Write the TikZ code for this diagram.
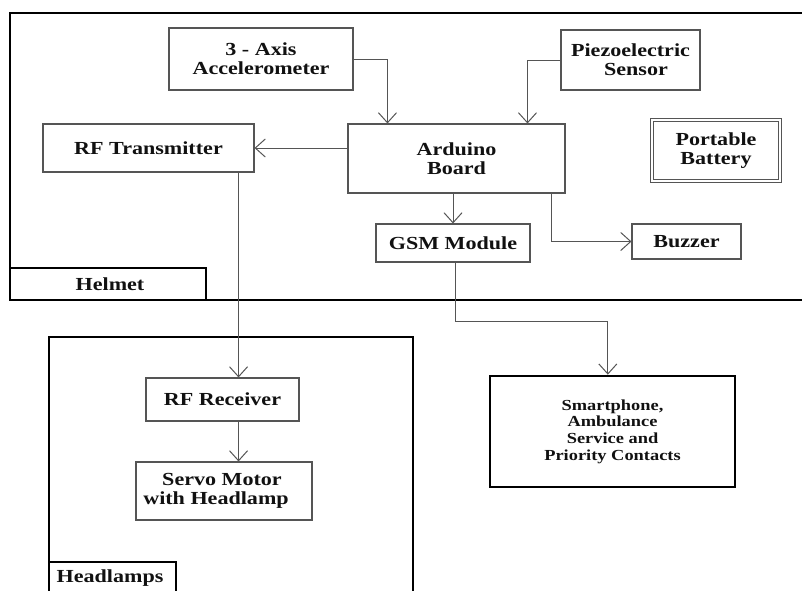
\documentclass[tikz,border=0pt]{standalone}
\usepackage{fontspec}
\setmainfont{Liberation Serif}[FakeStretch=1.2]
\usetikzlibrary{arrows.meta,calc}
\definecolor{ln}{HTML}{555555}
\definecolor{tx}{HTML}{111111}
\tikzset{
  blk/.style={draw=ln, line width=0.8pt, rectangle, inner sep=0pt, align=center,
    text=tx, font=\bfseries\fontsize{13.8}{14.2}\selectfont},
  frame/.style={draw=black, line width=2pt},
  conn/.style={draw=ln, line width=0.75pt, -{Straight Barb[length=7.5pt,width=13.5pt,line width=0.75pt]}},
  lbl/.style={text=tx, font=\bfseries\fontsize{13.8}{14.2}\selectfont, inner sep=0pt}
}
\begin{document}
\begin{tikzpicture}[x=0.75pt,y=-0.75pt]
\useasboundingbox[fill=white] (0,0) rectangle (802,590);
% outer frames
\draw[frame] (802,13) -- (10,13) -- (10,300) -- (802,300);
\draw[frame] (10,268) -- (206,268) -- (206,300);
\node[lbl] (helmet) at (110,284) {Helmet};
\draw[frame] (49,592) -- (49,337) -- (413,337) -- (413,592);
\draw[frame] (49,592) -- (49,562) -- (176,562) -- (176,592);
\node[lbl] (headl) at (110,578) {Headlamps};
% blocks
\node[blk, minimum width=138pt, minimum height=46.5pt] (acc) at (261,59) {3 - Axis\\Accelerometer};
\node[blk, minimum width=104.25pt, minimum height=45pt] (piezo) at (630.5,60) {Piezoelectric\\\ \ Sensor};
\node[blk, minimum width=158.25pt, minimum height=36pt] (rft) at (148.5,148) {RF Transmitter};
\node[blk, draw=ln, double=white, double distance=2pt, line width=0.8pt, minimum width=96pt, minimum height=45.75pt] (bat) at (716,150.5) {Portable\\Battery};
\node[blk, minimum width=162.75pt, minimum height=51.75pt] (ard) at (456.5,158.5) {Arduino\\Board};
\node[blk, minimum width=115.5pt, minimum height=28.5pt] (gsm) at (453,243) {GSM Module};
\node[blk, minimum width=81.75pt, minimum height=26.25pt] (buz) at (686.5,241.5) {Buzzer};
\node[blk, draw=black, line width=2pt, minimum width=183.75pt, minimum height=83.25pt,
  font=\bfseries\fontsize{11.5}{12.5}\selectfont] (smart) at (612.5,431.5) {Smartphone,\\Ambulance\\Service and\\Priority Contacts};
\node[blk, minimum width=114.75pt, minimum height=32.25pt] (rfr) at (222.5,399.5) {RF Receiver};
\node[blk, minimum width=132pt, minimum height=43.5pt] (servo) at (224,491) {Servo Motor\hspace*{3pt}\\with Headlamp\hspace*{12pt}};
% connectors
\draw[conn] (acc.east) -| ([xshift=30pt]ard.north west);
\draw[conn] (piezo.west) -| ([xshift=135pt]ard.north west);
\draw[conn] (ard.west |- rft.east) -- (rft.east);
\draw[conn] (ard.south -| gsm.north) -- (gsm.north);
\draw[conn] ([xshift=-10.5pt]ard.south east) |- (buz.west);
\coordinate (gbend) at (455,321);
\draw[conn] (gsm.south -| gbend) -- (gbend) -| ([xshift=-3.5pt]smart.north);
\coordinate (rx) at ([xshift=-12pt]rft.south east);
\draw[conn] (rx) -- (rx |- rfr.north);
\draw[conn] (rx |- rfr.south) -- (rx |- servo.north);
\end{tikzpicture}
\end{document}
